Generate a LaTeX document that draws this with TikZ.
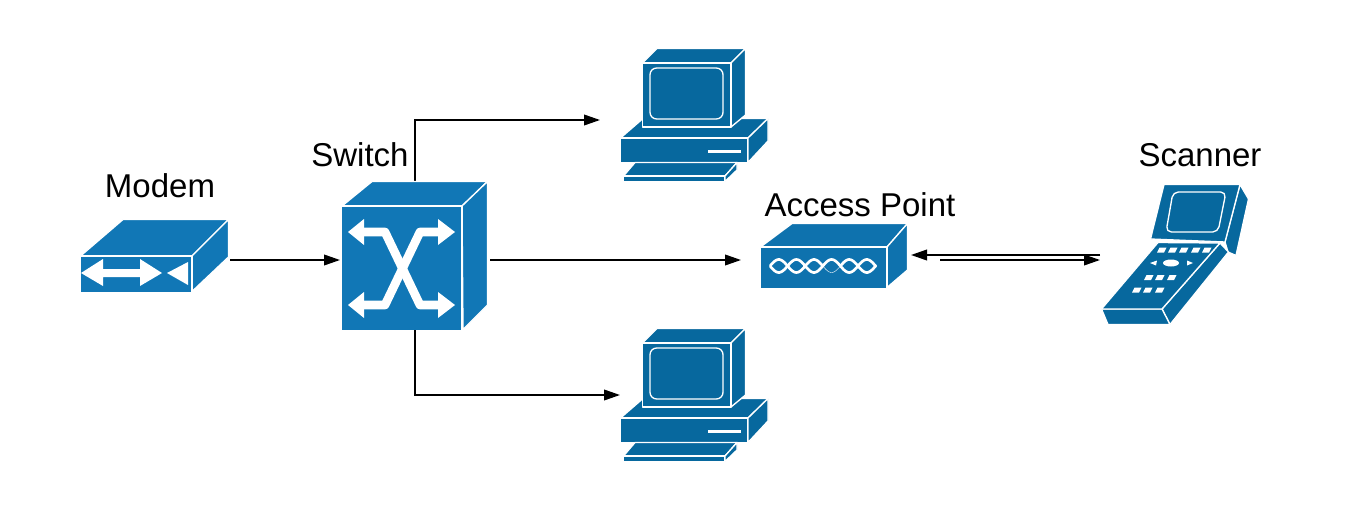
\documentclass[tikz,border=0pt]{standalone}
\usepackage{fontspec}
\setmainfont{Liberation Sans}
\usetikzlibrary{arrows.meta}

\definecolor{swblue}{HTML}{1177B6}
\definecolor{apblue}{HTML}{0E72AE}
\definecolor{pcblue}{HTML}{07689E}
\tikzset{
  face/.style={draw=white, line width=1pt, line join=round},
  whitefill/.style={fill=white, draw=none},
  spot/.style={inner sep=0pt, outer sep=0pt},
  icontxt/.style={anchor=base, inner sep=0pt, font=\fontsize{24.75}{30}\selectfont},
  link/.style={line width=1.25pt, -{Triangle[length=12pt,width=8pt]}},
  wave/.style={white, line width=2pt},
  pcicon/.pic={
    % base
    \draw[face, fill=pcblue] (620.5,138) -- (643,118.5) -- (768,118.5) -- (748,138) -- cycle;
    \draw[face, fill=pcblue] (620.5,138) rectangle (748,162.5);
    \draw[face, fill=pcblue] (748,138) -- (768,118.5) -- (768,141) -- (748,162.5) -- cycle;
    \fill[whitefill] (708,149.5) rectangle (741,152.5);
    % monitor
    \draw[face, fill=pcblue] (642.5,63) -- (657,48.5) -- (745.5,48.5) -- (731,63) -- cycle;
    \draw[face, fill=pcblue] (731,63) -- (745.5,48.5) -- (745.5,115) -- (731,127) -- cycle;
    \draw[face, fill=pcblue] (642.5,63) rectangle (731,127);
    \draw[face, rounded corners=5pt] (650,68) rectangle (723,119);
    % keyboard
    \draw[face, fill=pcblue] (635,162.5) -- (737,162.5) -- (725,176) -- (623.5,176) -- cycle;
    \draw[face, fill=pcblue] (623.5,176) rectangle (725,181.5);
    \draw[face, fill=pcblue] (737,162.5) -- (737,170) -- (725,181.5) -- (725,176) -- cycle;
  }
}

\begin{document}
\begin{tikzpicture}[x=0.75pt, y=-0.75pt]
\useasboundingbox (0,0) rectangle (1360,510);

\node[spot, minimum width=112.5pt, minimum height=60pt] (modem) at (155,260) {};
\node[spot, minimum width=112.5pt, minimum height=103.5pt] (switch) at (415,260) {};
\node[spot, minimum width=127.5pt, minimum height=106.5pt] (pcup) at (685,120) {};
\node[spot, minimum width=112.5pt, minimum height=99pt] (pcdown) at (695,395) {};
\node[spot, minimum width=127.5pt, minimum height=54pt] (ap) at (826,260) {};
\node[spot, minimum width=112.5pt, minimum height=112.5pt] (scanner) at (1175,260) {};
\coordinate (apback) at (940,260);

\node[icontxt] (modemtxt) at (160,197) {Modem};
\node[icontxt] (switchtxt) at (360,166) {Switch};
\node[icontxt] (aptxt) at (860,216) {Access Point};
\node[icontxt] (scannertxt) at (1200,166) {Scanner};

\draw[link] (modem) -- (switch);
\draw[link] (switch) -- (ap);
\draw[link] (switch.north) |- (pcup.west);
\draw[link] (switch.south) |- (pcdown.west);
\draw[link] ([yshift=3.75pt]scanner.west) -- ([yshift=3.75pt]ap.east);
\draw[link] (apback) -- (scanner.west);

% modem
\draw[face, fill=swblue] (80.5,256) -- (123,219.5) -- (228.5,219.5) -- (192,256) -- cycle;
\draw[face, fill=swblue] (192,256) -- (228.5,219.5) -- (228.5,257) -- (192,291.5) -- cycle;
\fill[swblue] (80.5,256) rectangle (192,291.5);
\draw[white, line width=1pt] (80.5,256) -- (192,256) -- (192,291.5);
\fill[whitefill] (81,273) -- (103,259) -- (103,269) -- (140,269) -- (140,259) -- (162,273)
  -- (140,286) -- (140,277) -- (103,277) -- (103,286) -- cycle;
\fill[whitefill] (167,273) -- (188,262) -- (188,285) -- cycle;

% switch
\draw[face, fill=swblue] (342,206) -- (372,181.5) -- (487.5,181.5) -- (462,206) -- cycle;
\draw[face, fill=swblue] (462,206) -- (487.5,181.5) -- (487.5,305) -- (463,329.5) -- cycle;
\fill[swblue] (341.5,206) rectangle (462,329.5);
\draw[white, line width=1pt] (341.5,206) -- (462,206) -- (462,329.5);
\draw[white, line width=6.5pt, line join=round] (360,232) -- (385,232) -- (420,305) -- (442,305);
\draw[white, line width=6.5pt, line join=round] (360,305) -- (385,305) -- (420,232) -- (442,232);
\foreach \ty in {232,305} {
  \fill[whitefill] (348,\ty) -- (364,\ty-13) -- (364,\ty+13) -- cycle;
  \fill[whitefill] (455,\ty) -- (438,\ty-13) -- (438,\ty+13) -- cycle;
}

% computers
\pic at (0,0) {pcicon};
\pic at (0,280) {pcicon};

% access point
\draw[face, fill=apblue] (760.5,247) -- (792,223.5) -- (907.5,223.5) -- (887,247) -- cycle;
\draw[face, fill=apblue] (887,247) -- (907.5,223.5) -- (907.5,270) -- (887,287.5) -- cycle;
\fill[apblue] (760.5,247) rectangle (887,287.5);
\draw[white, line width=1pt] (760.5,247) -- (887,247) -- (887,287.5);
\draw[wave] plot[domain=0:106, samples=90, smooth] (770+\x,{266+6.5*sin(\x/17.6*180)});
\draw[wave] plot[domain=0:53, samples=45, smooth] (770+\x,{266-6.5*sin(\x/17.6*180)});
\draw[wave, line width=0.3pt] plot[domain=53:70.4, samples=15, smooth] (770+\x,{266-6.5*sin(\x/17.6*180)});
\draw[wave] plot[domain=70.4:106, samples=30, smooth] (770+\x,{266-6.5*sin(\x/17.6*180)});

% scanner
\draw[face, fill=pcblue] (1240,184.5) -- (1248.5,199) -- (1236,255.5) -- (1228,252) -- (1225,242) -- cycle;
\draw[face, fill=pcblue] (1164,184.5) -- (1240,184.5) -- (1225,242) -- (1150.5,239) -- cycle;
\draw[face, rounded corners=4pt] (1173,192) -- (1226,192) -- (1218,232) -- (1166,232) -- cycle;
\draw[face, fill=pcblue] (1220,243) -- (1228.5,252) -- (1170,324.5) -- (1162,309) -- cycle;
\draw[face, fill=pcblue] (1101.5,309) -- (1162,309) -- (1170,324.5) -- (1108,324.5) -- cycle;
\draw[face, fill=pcblue] (1158,242.5) -- (1220,243) -- (1162,309) -- (1101.5,309) -- cycle;
\foreach \bx in {1157,1168,1179,1191,1202}
  \fill[whitefill] (\bx,252.5) -- (\bx+7,252.5) -- (\bx+9.5,247.5) -- (\bx+2.5,247.5) -- cycle;
\fill[whitefill] (1171,263) ellipse (8 and 3.5);
\fill[whitefill] (1150,263) -- (1157,260.5) -- (1156,265.5) -- cycle;
\fill[whitefill] (1193,263) -- (1187,260.5) -- (1187,265.5) -- cycle;
\foreach \bx in {1144,1155,1167}
  \fill[whitefill] (\bx,280) -- (\bx+7,280) -- (\bx+9.5,275) -- (\bx+2.5,275) -- cycle;
\foreach \bx in {1132,1143,1155}
  \fill[whitefill] (\bx,292.5) -- (\bx+7,292.5) -- (\bx+9.5,287.5) -- (\bx+2.5,287.5) -- cycle;
\end{tikzpicture}
\end{document}
